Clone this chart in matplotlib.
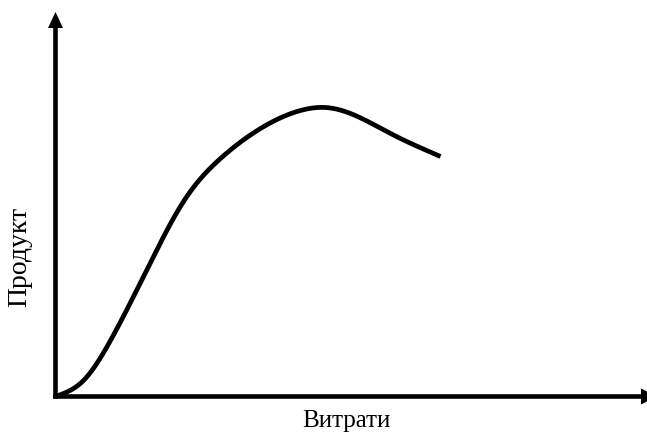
import numpy as np
import matplotlib.pyplot as plt

# curve (units = pixels from the origin of the axes)
costs = [0, 28, 55, 95, 130, 165, 205, 245, 270, 295, 335, 385]
output = [0, 16, 56, 134, 198, 238, 268, 286, 289, 283, 263, 240]

x_label = "Витрати"
y_label = "Продукт"

plt.rcParams['font.family'] = ['Liberation Serif', 'DejaVu Serif']


def natural_spline(x, y, xx):
  # plain natural cubic spline, no scipy needed
  x = np.asarray(x, float)
  y = np.asarray(y, float)
  n = len(x) - 1
  h = np.diff(x)
  A = np.zeros((n + 1, n + 1))
  b = np.zeros(n + 1)
  A[0, 0] = 1
  A[n, n] = 1
  for i in range(1, n):
    A[i, i - 1] = h[i - 1]
    A[i, i] = 2 * (h[i - 1] + h[i])
    A[i, i + 1] = h[i]
    b[i] = 3 * ((y[i + 1] - y[i]) / h[i] - (y[i] - y[i - 1]) / h[i - 1])
  c = np.linalg.solve(A, b)
  idx = np.clip(np.searchsorted(x, xx, side='right') - 1, 0, n - 1)
  d = xx - x[idx]
  bi = (y[idx + 1] - y[idx]) / h[idx] - h[idx] * (2 * c[idx] + c[idx + 1]) / 3
  di = (c[idx + 1] - c[idx]) / (3 * h[idx])
  return y[idx] + bi * d + c[idx] * d ** 2 + di * d ** 3


W, H = 647, 434
ox, oy = 55.5, 396.5  # where the two axes meet (pixels)

fig = plt.figure(figsize=(W / 100, H / 100), dpi=100)
ax = fig.add_axes([ox / W, (H - oy) / H, (W - ox) / W, oy / H])
ax.set_xlim(0, W - ox)
ax.set_ylim(0, oy)
ax.axis('off')

xx = np.linspace(costs[0], costs[-1], 500)
yy = natural_spline(costs, output, xx)
ax.plot(xx, yy, color='black', lw=3.4, solid_capstyle='butt', clip_on=False)

# axes with arrow heads
ax.arrow(0, -2.2, 0, oy - 12 + 2.2, width=4.6, head_width=15, head_length=16,
         length_includes_head=True, color='black', lw=0, clip_on=False)
ax.arrow(-2.2, 0, 657 - ox + 2.2, 0, width=4.6, head_width=16, head_length=16,
         length_includes_head=True, color='black', lw=0, clip_on=False)

fig.text(346 / W, 1 - 421 / H, x_label, ha='center', va='center', fontsize=18)
fig.text(20 / W, 1 - 257 / H, y_label, ha='center', va='center', rotation=90, fontsize=20)

fig.savefig('out.png', dpi=100)
